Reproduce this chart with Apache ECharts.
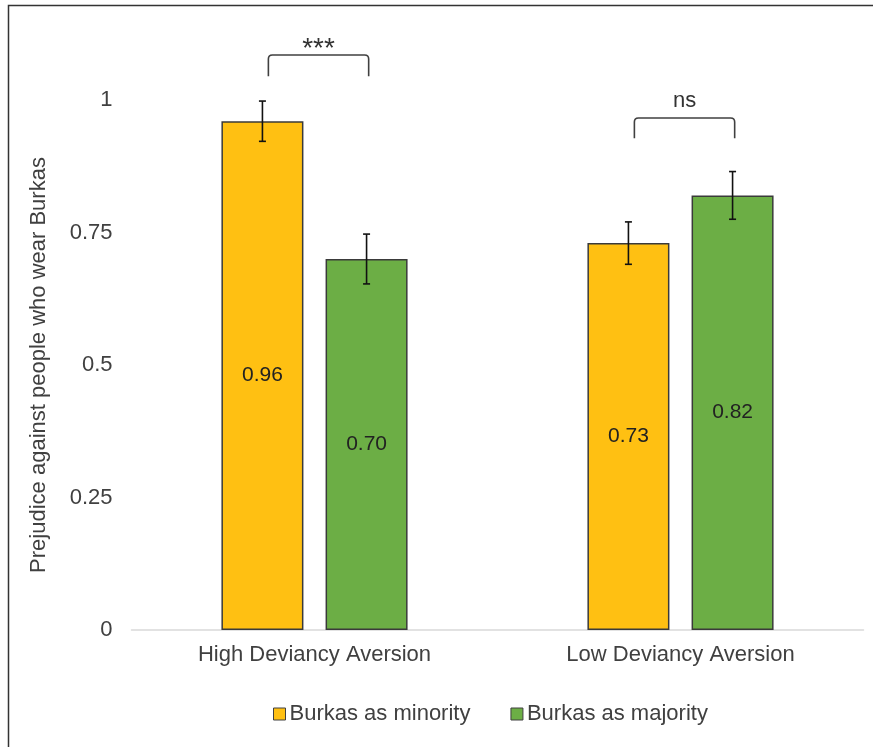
<!DOCTYPE html>
<html>
<head>
<meta charset="utf-8">
<script src="https://cdn.jsdelivr.net/npm/echarts@6/dist/echarts.min.js"></script>
<style>
html,body{margin:0;padding:0;background:#fff;}
#chart{width:873px;height:747px;}
</style>
</head>
<body>
<div id="chart"></div>
<script>
var categories = ['High Deviancy Aversion', 'Low Deviancy Aversion'];
var seriesNames = ['Burkas as minority', 'Burkas as majority'];
var minority = [0.96, 0.73];
var majority = [0.70, 0.82];
var minorityErr = [0.038, 0.040];
var majorityErr = [0.047, 0.045];
var sigLabels = ['***', 'ns'];
var sigTop = [1.085, 0.966];
var sigDrop = [1.045, 0.928];
var yTicks = [0, 0.25, 0.5, 0.75, 1];

var FONT = '"Liberation Sans", Arial, sans-serif';
var TXT = '#404040';
var FS = 22;
var BAR_W = 82;
var GAP = 0.27;
var OFFSET = BAR_W * (1 + GAP) / 2;

function errData(vals, errs) {
  return vals.map(function (v, i) { return [i, v, errs[i]]; });
}

function errorRender(sign) {
  return function (params, api) {
    var i = api.value(0), v = api.value(1), e = api.value(2);
    var hi = api.coord([i, v + e]);
    var lo = api.coord([i, v - e]);
    var x = hi[0] + sign * OFFSET;
    var cap = 3.5;
    var st = { stroke: '#111', lineWidth: 1.6 };
    return {
      type: 'group',
      children: [
        { type: 'line', shape: { x1: x, y1: hi[1], x2: x, y2: lo[1] }, style: st },
        { type: 'line', shape: { x1: x - cap, y1: hi[1], x2: x + cap, y2: hi[1] }, style: st },
        { type: 'line', shape: { x1: x - cap, y1: lo[1], x2: x + cap, y2: lo[1] }, style: st }
      ]
    };
  };
}

var sigData = categories.map(function (c, i) { return [i, sigTop[i], sigDrop[i]]; });

var chart = echarts.init(document.getElementById('chart'));
chart.setOption({
  animation: false,
  textStyle: { fontFamily: FONT },
  graphic: [{
    type: 'rect',
    shape: { x: 8.5, y: 5.5, width: 900, height: 800 },
    style: { fill: 'none', stroke: '#333', lineWidth: 1.5 },
    silent: true
  }],
  grid: { left: 131.5, right: 9.5, top: 100, bottom: 117 },
  legend: {
    data: seriesNames,
    left: 268,
    top: 698,
    icon: 'rect',
    itemWidth: 12,
    itemHeight: 12,
    itemGap: 40,
    itemStyle: { borderColor: '#404040', borderWidth: 1 },
    textStyle: { color: TXT, fontSize: FS, fontFamily: FONT, padding: [0, 0, 0, -1] }
  },
  xAxis: {
    type: 'category',
    data: categories,
    axisTick: { show: false },
    axisLine: { lineStyle: { color: '#d9d9d9', width: 1.5 } },
    axisLabel: { color: TXT, fontSize: FS, fontFamily: FONT, margin: 14 }
  },
  yAxis: {
    type: 'value',
    min: 0,
    max: 1,
    interval: 0.25,
    name: 'Prejudice against people who wear Burkas',
    nameLocation: 'middle',
    nameGap: 82,
    nameTextStyle: { color: TXT, fontSize: FS, fontFamily: FONT },
    axisLine: { show: false },
    axisTick: { show: false },
    splitLine: { show: false },
    axisLabel: {
      color: TXT, fontSize: FS, fontFamily: FONT, margin: 19,
      formatter: function (v) {
        for (var k = 0; k < yTicks.length; k++) { if (Math.abs(yTicks[k] - v) < 1e-9) return String(yTicks[k]); }
        return '';
      }
    }
  },
  series: [
    {
      name: seriesNames[0],
      type: 'bar',
      data: minority,
      barWidth: BAR_W,
      barGap: (GAP * 100) + '%',
      itemStyle: { color: '#FFC012', borderColor: '#3a3a3a', borderWidth: 1.5 },
      label: {
        show: true, position: 'inside', color: '#222', fontSize: 21, fontFamily: FONT,
        formatter: function (p) { return p.value.toFixed(2); }
      }
    },
    {
      name: seriesNames[1],
      type: 'bar',
      data: majority,
      barWidth: BAR_W,
      barGap: (GAP * 100) + '%',
      itemStyle: { color: '#6CAE45', borderColor: '#3a3a3a', borderWidth: 1.5 },
      label: {
        show: true, position: 'inside', color: '#222', fontSize: 21, fontFamily: FONT,
        formatter: function (p) { return p.value.toFixed(2); }
      }
    },
    {
      type: 'custom',
      data: errData(minority, minorityErr),
      renderItem: errorRender(-1),
      z: 5, clip: false, silent: true
    },
    {
      type: 'custom',
      data: errData(majority, majorityErr),
      renderItem: errorRender(1),
      z: 5, clip: false, silent: true
    },
    {
      type: 'custom',
      data: sigData,
      clip: false, silent: true, z: 5,
      renderItem: function (params, api) {
        var i = api.value(0);
        var top = api.coord([i, api.value(1)]);
        var drop = api.coord([i, api.value(2)]);
        var band = api.size([1, 0])[0];
        var x1 = top[0] - band * 0.126;
        var x2 = top[0] + band * 0.148;
        var y1 = top[1], y2 = drop[1];
        var r = 4;
        var label = sigLabels[i];
        var isStar = /^\*+$/.test(label);
        return {
          type: 'group',
          children: [
            {
              type: 'path',
              shape: {
                pathData: 'M' + x1 + ' ' + y2 + ' L' + x1 + ' ' + (y1 + r) +
                  ' Q' + x1 + ' ' + y1 + ' ' + (x1 + r) + ' ' + y1 +
                  ' L' + (x2 - r) + ' ' + y1 +
                  ' Q' + x2 + ' ' + y1 + ' ' + x2 + ' ' + (y1 + r) +
                  ' L' + x2 + ' ' + y2
              },
              style: { fill: 'none', stroke: '#404040', lineWidth: 1.6 }
            },
            {
              type: 'text',
              style: {
                text: label,
                x: (x1 + x2) / 2,
                y: isStar ? y1 - 6 : y1 - 6,
                align: 'center',
                verticalAlign: isStar ? 'middle' : 'bottom',
                fill: '#333',
                font: (isStar ? 28 : FS) + 'px ' + FONT
              }
            }
          ]
        };
      }
    }
  ]
});
</script>
</body>
</html>
